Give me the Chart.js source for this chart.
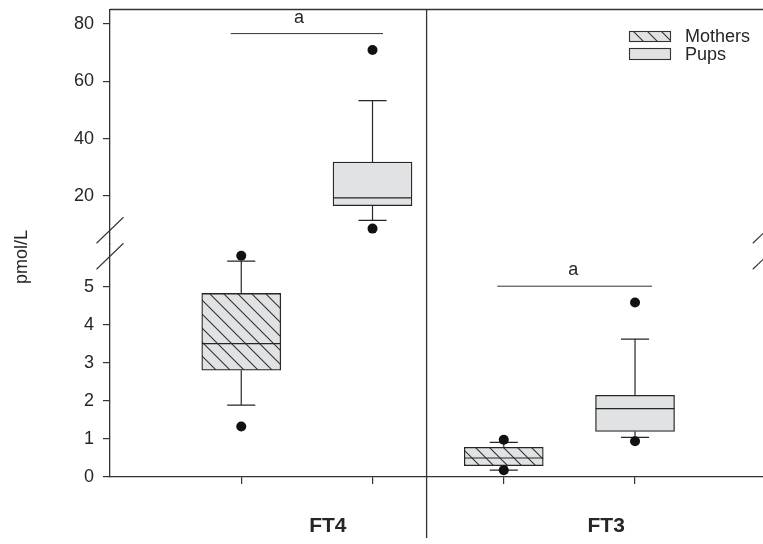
<!DOCTYPE html>
<html>
<head>
<meta charset="utf-8">
<script src="https://cdn.jsdelivr.net/npm/chart.js@4.4.0/dist/chart.umd.min.js"></script>
<style>
  html, body { margin: 0; padding: 0; background: #fff; overflow: hidden; }
</style>
</head>
<body>
<canvas id="chart" width="763" height="544"></canvas>
<script>
// data: FT4 (Mothers, Pups) | FT3 (Mothers, Pups)
const groups = ["FT4", "FT3"];
const seriesNames = ["Mothers", "Pups"];
const boxPos = [1, 2, 3, 4];
const boxSeries = [0, 1, 0, 1];
const boxAxis = ["yLow", "yHigh", "yLow", "yLow"];
const q1 = [2.81, 16.6, 0.30, 1.20];
const median = [3.51, 19.3, 0.50, 1.80];
const q3 = [4.83, 31.8, 0.78, 2.15];
const whiskLow = [1.89, 11.5, 0.18, 1.04];
const whiskHigh = [5.68, 53.2, 0.91, 3.63];
const outliers = [[1.33, 5.82], [8.6, 70.9], [0.18, 0.98], [0.94, 4.59]];

const highTicks = [20, 40, 60, 80];
const lowTicks = [0, 1, 2, 3, 4, 5];

// significance bars ("a")
const sigFrom = [0.92, 2.95];
const sigTo = [2.08, 4.13];
const sigY = [76.6, 5.02];
const sigAxis = ["yHigh", "yLow"];
const sigText = ["a", "a"];
const sigTextX = [1.44, 3.53];

const groupLabelX = [1.66, 3.78];
const panelDivider = 2.412;

const BOX_HALF = 0.3;
const CAP_HALF = 0.107;
const INK = "#262626";
const FILL = "#e1e2e3";
const FONT = "'Liberation Sans', Arial, sans-serif";

Chart.defaults.font.family = FONT;
Chart.defaults.color = INK;

function makeHatch() {
  let c = document.createElement("canvas");
  c.width = 14;
  c.height = 14;
  let g = c.getContext("2d");
  g.fillStyle = FILL;
  g.fillRect(0, 0, 14, 14);
  g.strokeStyle = "#333";
  g.lineWidth = 1.1;
  g.beginPath();
  g.moveTo(-1, -1);
  g.lineTo(15, 15);
  g.moveTo(-1, 13);
  g.lineTo(1, 15);
  g.moveTo(13, -1);
  g.lineTo(15, 1);
  g.stroke();
  return g.createPattern(c, "repeat");
}
const hatch = makeHatch();

function boxesFor(series, axis) {
  let out = [];
  for (let i = 0; i < boxPos.length; i++) {
    if (boxSeries[i] === series && boxAxis[i] === axis) {
      out.push({ x: boxPos[i], y: [q1[i], q3[i]] });
    }
  }
  return out;
}

function linesFor(axis) {
  let out = [];
  for (let i = 0; i < boxPos.length; i++) {
    if (boxAxis[i] !== axis) continue;
    let p = boxPos[i];
    out.push({ x: p, y: q3[i] }, { x: p, y: whiskHigh[i] }, { x: p, y: null });
    out.push({ x: p - CAP_HALF, y: whiskHigh[i] }, { x: p + CAP_HALF, y: whiskHigh[i] }, { x: p, y: null });
    out.push({ x: p, y: q1[i] }, { x: p, y: whiskLow[i] }, { x: p, y: null });
    out.push({ x: p - CAP_HALF, y: whiskLow[i] }, { x: p + CAP_HALF, y: whiskLow[i] }, { x: p, y: null });
    out.push({ x: p - BOX_HALF, y: median[i] }, { x: p + BOX_HALF, y: median[i] }, { x: p, y: null });
  }
  return out;
}

function outliersFor(axis) {
  let out = [];
  for (let i = 0; i < boxPos.length; i++) {
    if (boxAxis[i] !== axis) continue;
    for (let v of outliers[i]) out.push({ x: boxPos[i], y: v });
  }
  return out;
}

let datasets = [];
for (let axis of ["yHigh", "yLow"]) {
  for (let s = 0; s < seriesNames.length; s++) {
    let d = boxesFor(s, axis);
    if (!d.length) continue;
    datasets.push({
      type: "bar",
      label: seriesNames[s],
      data: d,
      yAxisID: axis,
      backgroundColor: s === 0 ? hatch : FILL,
      borderColor: INK,
      borderWidth: 1.3,
      borderSkipped: false,
      barThickness: 79,
      grouped: false,
      order: 3,
    });
  }
  datasets.push({
    type: "line",
    data: linesFor(axis),
    yAxisID: axis,
    borderColor: INK,
    borderWidth: 1.2,
    pointRadius: 0,
    spanGaps: false,
    fill: false,
    tension: 0,
    order: 2,
  });
  datasets.push({
    type: "scatter",
    data: outliersFor(axis),
    yAxisID: axis,
    pointRadius: 5,
    backgroundColor: "#111",
    borderColor: "#111",
    borderWidth: 0,
    order: 1,
  });
}

function yAxis(min, max, ticks) {
  return {
    type: "linear",
    position: "left",
    stack: "y",
    stackWeight: 1,
    min: min,
    max: max,
    offset: false,
    afterBuildTicks: (scale) => {
      scale.ticks = ticks.map((v) => ({ value: v }));
    },
    afterFit: (scale) => {
      scale.width = 110;
      scale.paddingTop = 0;
      scale.paddingBottom = 0;
    },
    grid: { drawOnChartArea: false, tickLength: 7, color: "#333", lineWidth: 1.2 },
    border: { display: true, color: "#333", width: 1.3 },
    ticks: { font: { size: 18 }, color: INK, padding: 9 },
  };
}

const decorations = {
  id: "decorations",
  afterDatasetsDraw(chart) {
    let ctx = chart.ctx;
    let area = chart.chartArea;
    let x = chart.scales.x;
    ctx.save();
    ctx.strokeStyle = "#333";
    ctx.lineWidth = 1.3;

    // top frame line
    ctx.beginPath();
    ctx.moveTo(area.left, area.top);
    ctx.lineTo(area.right, area.top);
    ctx.stroke();

    // divider between FT4 and FT3
    let dx = x.getPixelForValue(panelDivider);
    ctx.beginPath();
    ctx.moveTo(dx, area.top);
    ctx.lineTo(dx, chart.height - 6);
    ctx.stroke();

    // axis break marks
    let brk = chart.scales.yHigh.bottom;
    ctx.lineWidth = 1.1;
    for (let bx of [area.left, x.getPixelForValue(5)]) {
      for (let off of [-13, 13]) {
        ctx.beginPath();
        ctx.moveTo(bx - 13.5, brk + off + 13);
        ctx.lineTo(bx + 13.5, brk + off - 13);
        ctx.stroke();
      }
    }

    // significance lines
    ctx.lineWidth = 1;
    ctx.fillStyle = INK;
    ctx.font = "18px " + FONT;
    ctx.textAlign = "center";
    ctx.textBaseline = "alphabetic";
    for (let i = 0; i < sigY.length; i++) {
      let y = chart.scales[sigAxis[i]].getPixelForValue(sigY[i]);
      ctx.beginPath();
      ctx.moveTo(x.getPixelForValue(sigFrom[i]), y);
      ctx.lineTo(x.getPixelForValue(sigTo[i]), y);
      ctx.stroke();
      ctx.fillText(sigText[i], x.getPixelForValue(sigTextX[i]), y - 11);
    }

    // group labels
    ctx.font = "bold 21px " + FONT;
    ctx.textBaseline = "middle";
    for (let i = 0; i < groups.length; i++) {
      ctx.fillText(groups[i], x.getPixelForValue(groupLabelX[i]), area.bottom + 49);
    }

    // y title
    ctx.save();
    ctx.translate(22, 257);
    ctx.rotate(-Math.PI / 2);
    ctx.font = "18px " + FONT;
    ctx.fillText("pmol/L", 0, 0);
    ctx.restore();

    // legend
    ctx.font = "18px " + FONT;
    ctx.textAlign = "left";
    let lx = area.right - 133.5;
    let rows = [
      { y: 31.5, h: 10, fill: hatch },
      { y: 48.5, h: 11, fill: FILL },
    ];
    for (let i = 0; i < seriesNames.length; i++) {
      let r = rows[i];
      ctx.fillStyle = r.fill;
      ctx.fillRect(lx, r.y, 41, r.h);
      ctx.lineWidth = 1.1;
      ctx.strokeRect(lx, r.y, 41, r.h);
      ctx.fillStyle = INK;
      ctx.fillText(seriesNames[i], lx + 55.5, r.y + r.h / 2 + 1);
    }
    ctx.restore();
  },
};

let chart = new Chart(document.getElementById("chart"), {
  type: "bar",
  data: { datasets: datasets },
  options: {
    responsive: false,
    animation: false,
    events: [],
    layout: { autoPadding: false, padding: { top: 9.5, left: 0, right: 0, bottom: 0 } },
    plugins: { legend: { display: false }, tooltip: { enabled: false } },
    scales: {
      x: {
        type: "linear",
        min: 0,
        max: 4.975,
        offset: false,
        afterBuildTicks: (scale) => {
          scale.ticks = boxPos.map((v) => ({ value: v }));
        },
        afterFit: (scale) => {
          scale.height = 67;
          scale.paddingLeft = 0;
          scale.paddingRight = 0;
        },
        grid: { drawOnChartArea: false, offset: false, tickLength: 7, color: "#333", lineWidth: 1.2 },
        border: { display: true, color: "#333", width: 1.3 },
        ticks: { display: false },
      },
      yLow: yAxis(0, 6.15, lowTicks),
      yHigh: yAxis(3.5, 85, highTicks),
    },
  },
  plugins: [decorations],
});
</script>
</body>
</html>
